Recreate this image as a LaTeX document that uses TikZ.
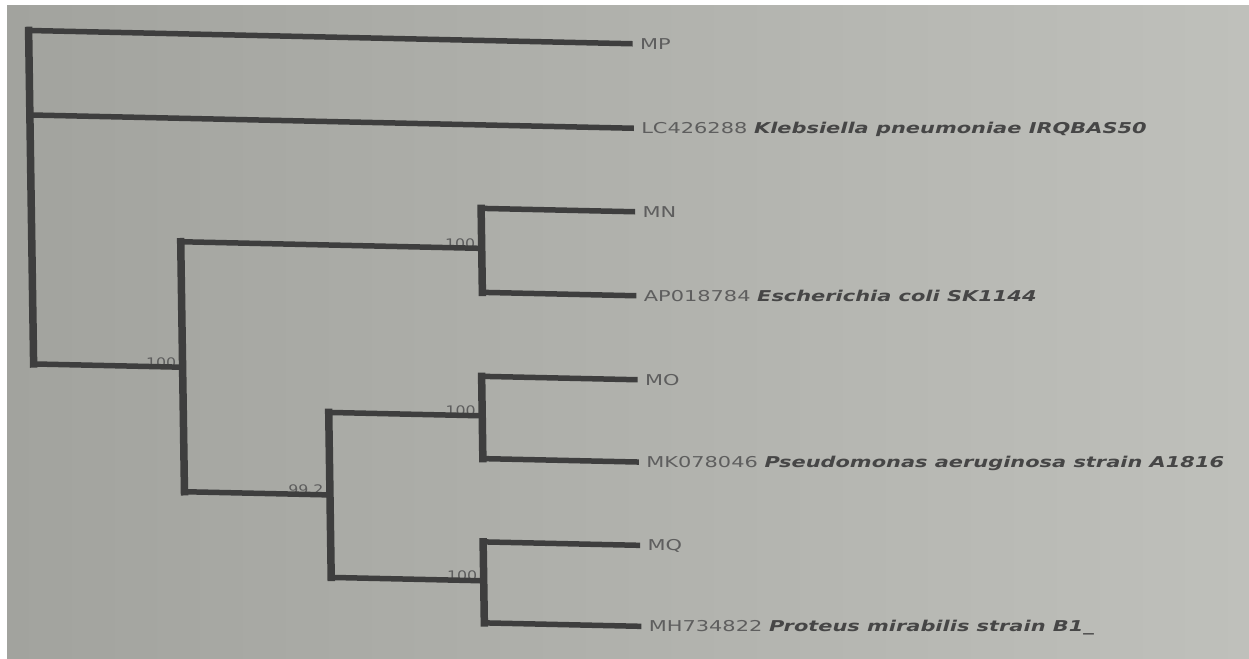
\documentclass[tikz,border=0pt]{standalone}
\usepackage{fontspec}
\setmainfont{DejaVu Sans}
\definecolor{bgL}{HTML}{A2A39E}
\definecolor{bgR}{HTML}{BFC0BB}
\definecolor{ink}{HTML}{3E3E3E}
\definecolor{acc}{HTML}{5E5E5E}
\definecolor{spc}{HTML}{464646}
\begin{document}
\begin{tikzpicture}[x=0.02cm,y=-0.02cm,
  hb/.style={draw=ink,line width=0.11cm,line cap=butt},
  vb/.style={draw=ink,line width=0.15cm,line cap=rect},
  leaflab/.style={anchor=base west,inner sep=0pt,xshift=0.14cm,yshift=-0.11cm,xscale=1.4,text=acc,font=\fontsize{8.5}{10}\selectfont},
  boot/.style={anchor=base east,inner sep=0pt,xshift=-0.12cm,xscale=1.2,text=acc,font=\fontsize{7.5}{9}\selectfont}]
\fill[white] (0,0) rectangle (1249,659);
\shade[left color=bgL,right color=bgR] (7,5) rectangle (1249,659);
\useasboundingbox (0,0) rectangle (1249,659);
\newcommand{\spc}[1]{\textcolor{spc}{\textbf{\textit{#1}}}}
\begin{scope}[cm={1,-0.022,-0.015,1,(-0.099cm,0.1452cm)}]
  % internal junctions
  \coordinate (rT) at (33,37);
  \coordinate (rL) at (33,121.5);
  \coordinate (rB) at (33,370.5);
  \coordinate (aM) at (182,370.5);
  \coordinate (aT) at (182,245);
  \coordinate (aB) at (182,495);
  \coordinate (bM) at (483,245);
  \coordinate (bT) at (483,205);
  \coordinate (bB) at (483,289);
  \coordinate (cM) at (327.5,495);
  \coordinate (cT) at (327.5,412.5);
  \coordinate (cB) at (327.5,577.5);
  \coordinate (dM) at (481,412.5);
  \coordinate (dT) at (481,373);
  \coordinate (dB) at (481,455.3);
  \coordinate (eM) at (480,577.5);
  \coordinate (eT) at (480,538.6);
  \coordinate (eB) at (480,619.6);
  % leaves
  \coordinate (MP) at (637,37);
  \coordinate (LC) at (637,121.5);
  \coordinate (MN) at (637,205);
  \coordinate (AP) at (637,289);
  \coordinate (MO) at (637,373);
  \coordinate (MK) at (637,455.3);
  \coordinate (MQ) at (637,538.6);
  \coordinate (MH) at (637,619.6);
  % bootstrap values
  \node[boot] (bsA) at (aM) {100};
  \node[boot] (bsB) at (bM) {100};
  \node[boot] (bsC) at (cM) {99.2};
  \node[boot] (bsD) at (dM) {100};
  \node[boot] (bsE) at (eM) {100};
  % vertical branches
  \draw[vb] (rT) -- (rB);
  \draw[vb] (aT) -- (aB);
  \draw[vb] (bT) -- (bB);
  \draw[vb] (cT) -- (cB);
  \draw[vb] (dT) -- (dB);
  \draw[vb] (eT) -- (eB);
  % horizontal branches
  \draw[hb] (rT) -- (MP);
  \draw[hb] (rL) -- (LC);
  \draw[hb] (rB) -- (aM);
  \draw[hb] (aT) -- (bM);
  \draw[hb] (aB) -- (cM);
  \draw[hb] (cT) -- (dM);
  \draw[hb] (cB) -- (eM);
  \draw[hb] (bT) -- (MN);
  \draw[hb] (bB) -- (AP);
  \draw[hb] (dT) -- (MO);
  \draw[hb] (dB) -- (MK);
  \draw[hb] (eT) -- (MQ);
  \draw[hb] (eB) -- (MH);
  % leaf labels
  \node[leaflab] (tMP) at (MP) {MP};
  \node[leaflab] (tLC) at (LC) {LC426288 \spc{Klebsiella pneumoniae IRQBAS50}};
  \node[leaflab] (tMN) at (MN) {MN};
  \node[leaflab] (tAP) at (AP) {AP018784 \spc{Escherichia coli SK1144}};
  \node[leaflab] (tMO) at (MO) {MO};
  \node[leaflab] (tMK) at (MK) {MK078046 \spc{Pseudomonas aeruginosa strain A1816}};
  \node[leaflab] (tMQ) at (MQ) {MQ};
  \node[leaflab] (tMH) at (MH) {MH734822 \spc{Proteus mirabilis strain B1\_}};
\end{scope}
\end{tikzpicture}
\end{document}
